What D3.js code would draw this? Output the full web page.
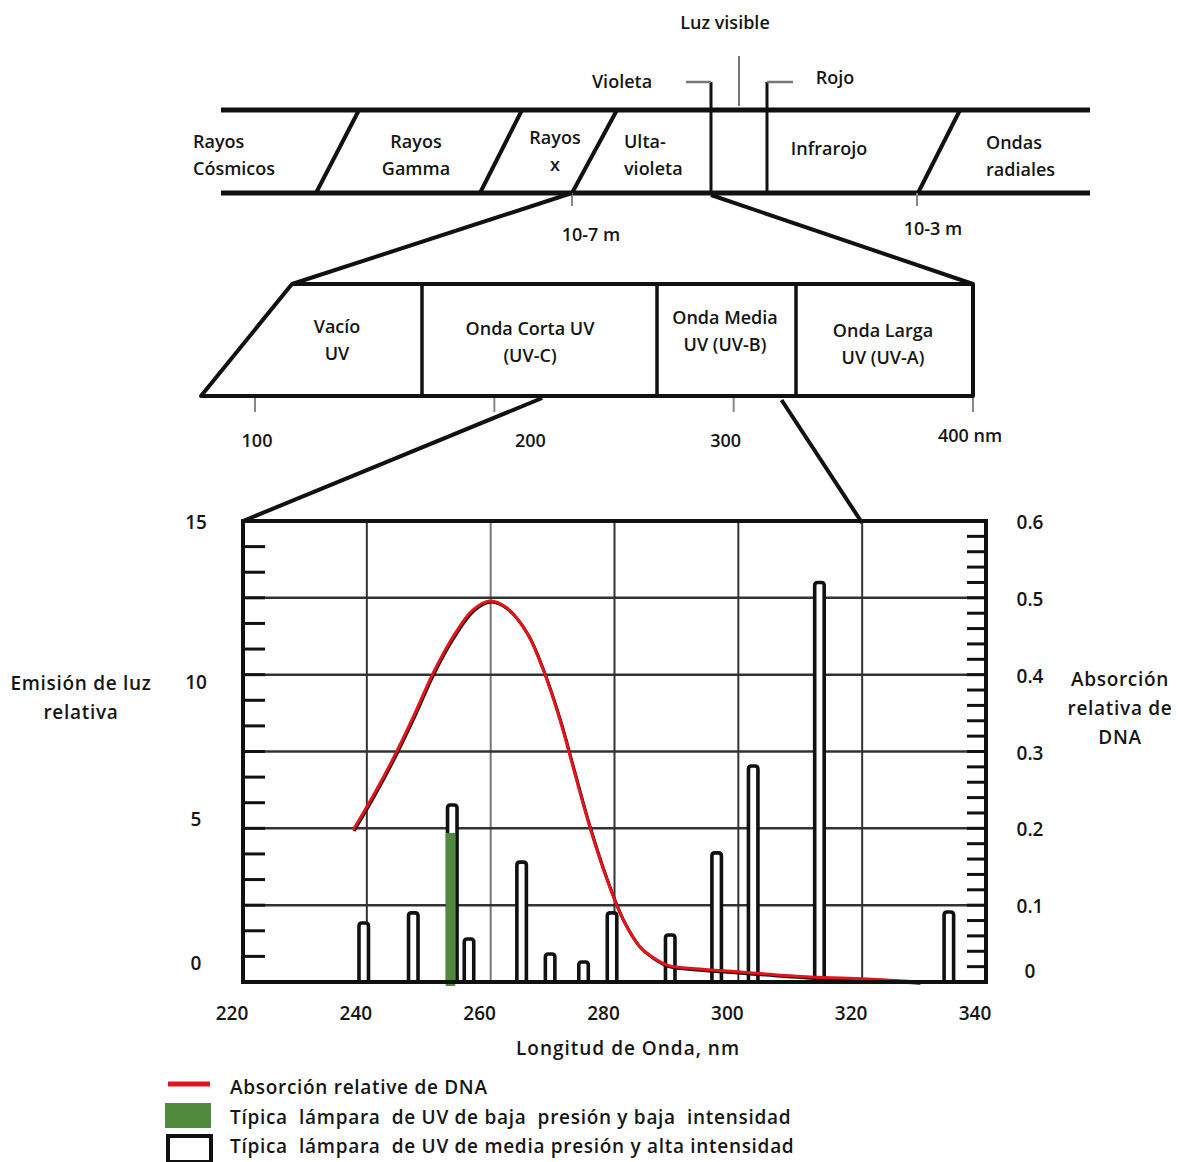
<!DOCTYPE html>
<html><head><meta charset="utf-8">
<script src="https://cdn.jsdelivr.net/npm/d3@7"></script>
<style>
body{margin:0;background:#fff;}
svg text{font-family:"Open Sans",Lato,sans-serif;fill:#161616;font-weight:600;}
svg text.wide{letter-spacing:0.7px;}
</style></head>
<body>
<svg id="c" width="1178" height="1162"></svg>
<script>
// Medium-pressure mercury lamp: emission lines (nm) and relative emission
const lampWavelengths = [239.5, 247.5, 253.8, 256.5, 265, 269.6, 275, 279.6, 289, 296.5, 302.4, 313.1, 334];
const lampEmission    = [1.92, 2.25, 5.76, 1.40, 3.90, 0.91, 0.65, 2.25, 1.53, 4.20, 7.03, 13.0, 2.28];
// Low-pressure lamp: single 254 nm line
const lowWavelengths = [253.8];
const lowEmission    = [4.85];
// Relative DNA absorption curve
const dnaWavelengths = [237.8, 241.0, 244.2, 247.5, 250.7, 253.9, 257.1, 259.9, 262.6, 265.9, 268.5, 271.2, 273.3, 276.0, 278.8, 281.4, 284.1, 285.7, 288.5, 293.8, 300.3, 311.6, 320.8, 329.3];
const dnaAbsorption  = [0.198, 0.242, 0.290, 0.345, 0.402, 0.449, 0.484, 0.496, 0.487, 0.454, 0.406, 0.341, 0.280, 0.202, 0.133, 0.081, 0.046, 0.035, 0.022, 0.017, 0.013, 0.0065, 0.004, 0.0];
// Axis ticks
const xTicks = [220, 240, 260, 280, 300, 320, 340];
const leftTicks = [0, 5, 10, 15];
const rightTicks = [0, 0.1, 0.2, 0.3, 0.4, 0.5, 0.6];
const uvTicks = [100, 200, 300, 400];
const legendLabels = [
  "Absorción relative de DNA",
  "Típica  lámpara  de UV de baja  presión y baja  intensidad",
  "Típica  lámpara  de UV de media presión y alta intensidad"
];

const svg = d3.select("#c");
const ink = "#111";

// ---------- Electromagnetic spectrum band ----------
const specG = svg.append("g");
function line(g, x1, y1, x2, y2, w, c) {
  return g.append("line").attr("x1", x1).attr("y1", y1).attr("x2", x2).attr("y2", y2)
    .attr("stroke", c || ink).attr("stroke-width", w);
}
function label(g, x, y, lines, anchor, size) {
  const t = g.append("text").attr("x", x).attr("y", y)
    .attr("text-anchor", anchor || "middle").style("font-size", (size || 18) + "px");
  lines.forEach((s, i) => t.append("tspan").attr("x", x).attr("dy", i ? 27 : 0).text(s));
  return t;
}
line(specG, 221, 110, 1090, 110, 5);
line(specG, 221, 193, 1090, 193, 5);
[[359, 316], [522, 480], [617, 572], [960, 918]].forEach(d => line(specG, d[0], 110, d[1], 193, 4));
line(specG, 711, 82, 711, 193, 3);
line(specG, 686, 82, 711, 82, 2.5, "#777");
line(specG, 767, 82, 767, 193, 3);
line(specG, 767, 82, 793, 82, 2.5, "#777");
line(specG, 739, 56, 739, 106, 2, "#777");
line(specG, 572, 193, 572, 206, 2, "#888");
line(specG, 917, 193, 917, 206, 2, "#888");
label(specG, 725, 29, ["Luz visible"]);
label(specG, 622, 88, ["Violeta"]);
label(specG, 835, 84, ["Rojo"]);
label(specG, 193, 148, ["Rayos", "Cósmicos"], "start");
label(specG, 416, 148, ["Rayos", "Gamma"]);
label(specG, 555, 144, ["Rayos", "x"]);
label(specG, 624, 148, ["Ulta-", "violeta"], "start");
label(specG, 829, 155, ["Infrarojo"]);
label(specG, 986, 149, ["Ondas", "radiales"], "start");
label(specG, 591, 241, ["10-7 m"]);
label(specG, 933, 235, ["10-3 m"]);

// ---------- Ultraviolet sub-band ----------
const uvX = d3.scaleLinear().domain([100, 400]).range([255, 973]);
const mid = svg.append("g");
line(mid, 572, 193, 292, 284, 4);
line(mid, 711, 195, uvX(400), 284, 4);
mid.append("path")
  .attr("d", `M292,284 L${uvX(400)},284 L${uvX(400)},396 L201,396 Z`)
  .attr("fill", "none").attr("stroke", ink).attr("stroke-width", 4).attr("stroke-linejoin", "round");
[422, 657, 796].forEach(x => line(mid, x, 284, x, 396, 3.5));
uvTicks.forEach(v => line(mid, uvX(v), 398, uvX(v), 412, 2, "#888"));
// tick labels sit a little off their ticks in this schematic
const uvLabelNudge = v => (v === 200 ? 36 : v === 300 ? -8 : v === 400 ? -3 : 2);
uvTicks.forEach(v => label(mid, uvX(v) + uvLabelNudge(v), v === 400 ? 442 : 447, [v === 400 ? "400 nm" : String(v)]));
label(mid, 337, 333, ["Vacío", "UV"]);
label(mid, 530, 335, ["Onda Corta UV", "(UV-C)"]);
label(mid, 725, 324, ["Onda Media", "UV (UV-B)"]);
label(mid, 883, 337, ["Onda Larga", "UV (UV-A)"]);

// ---------- Spectral chart ----------
const x = d3.scaleLinear().domain([220, 340]).range([243, 986]);
const yL = d3.scaleLinear().domain([0, 15]).range([982, 521]);
const yR = d3.scaleLinear().domain([0, 0.6]).range([982, 521]);
const plot = svg.append("g");

// zoom lines from the UV band into the chart
line(plot, uvX(220), 398, x(220), yL(15), 4);
line(plot, uvX(320), 400, x(320), yL(15) + 2, 4);

// grid
plot.append("g").selectAll("line").data(xTicks.slice(1, -1)).join("line")
  .attr("x1", d => x(d)).attr("x2", d => x(d)).attr("y1", yL(15)).attr("y2", yL(0))
  .attr("stroke", (d) => d === 260 ? "#777" : "#333").attr("stroke-width", 2);
plot.append("g").selectAll("line").data(rightTicks.slice(1, -1)).join("line")
  .attr("x1", x(220)).attr("x2", x(340)).attr("y1", d => yR(d)).attr("y2", d => yR(d))
  .attr("stroke", "#333").attr("stroke-width", 2.5);

// minor ticks on both vertical axes
plot.append("g").selectAll("line").data(d3.range(1, 18).map(i => i * 15 / 18)).join("line")
  .attr("x1", x(220)).attr("x2", x(220) + 22).attr("y1", d => yL(d)).attr("y2", d => yL(d))
  .attr("stroke", ink).attr("stroke-width", 3);
plot.append("g").selectAll("line").data(d3.range(1, 30).map(i => i * 0.02)).join("line")
  .attr("x1", x(340) - 19).attr("x2", x(340)).attr("y1", d => yR(d)).attr("y2", d => yR(d))
  .attr("stroke", ink).attr("stroke-width", 3);

// medium-pressure lamp lines (outlined bars)
const barW = 9.5;
plot.append("g").selectAll("path").data(lampWavelengths.map((w, i) => [w, lampEmission[i]])).join("path")
  .attr("d", d => {
    const x0 = x(d[0]) - barW / 2, x1 = x(d[0]) + barW / 2, yt = yL(d[1]), yb = yL(0);
    return `M${x0},${yb} L${x0},${yt + 3} Q${x0},${yt} ${x0 + 3},${yt} L${x1 - 3},${yt} Q${x1},${yt} ${x1},${yt + 3} L${x1},${yb}`;
  })
  .attr("fill", "#fff").attr("stroke", ink).attr("stroke-width", 3.6);

// low-pressure lamp line (filled green)
plot.append("g").selectAll("rect").data(lowWavelengths.map((w, i) => [w, lowEmission[i]])).join("rect")
  .attr("x", d => x(d[0]) - barW / 2 - 1.8).attr("width", barW)
  .attr("y", d => yL(d[1])).attr("height", d => yL(0) - yL(d[1]) + 4)
  .attr("fill", "#4f8a3d");

// DNA absorption curve
const dnaLine = d3.line().x(d => x(d[0])).y(d => yR(d[1])).curve(d3.curveCatmullRom.alpha(0.5));
const dna = dnaWavelengths.map((w, i) => [w, dnaAbsorption[i]]);
plot.append("path").datum(dna).attr("d", dnaLine).attr("fill", "none")
  .attr("stroke", "#1a0a0a").attr("stroke-width", 3).attr("transform", "translate(0.8,1.2)");
plot.append("path").datum(dna).attr("d", dnaLine).attr("fill", "none")
  .attr("stroke", "#e3141b").attr("stroke-width", 3);

// frame
plot.append("rect").attr("x", x(220)).attr("y", yL(15)).attr("width", x(340) - x(220)).attr("height", yL(0) - yL(15))
  .attr("fill", "none").attr("stroke", ink).attr("stroke-width", 4);

// tick labels
plot.append("g").selectAll("text").data(xTicks).join("text")
  .attr("x", d => x(d) - 11).attr("y", yL(0) + 38).attr("text-anchor", "middle")
  .style("font-size", "19px").text(d => d);
plot.append("g").selectAll("text").data(leftTicks).join("text")
  .attr("x", 196).attr("y", d => yL(d) + (d === 0 ? -12 : d === 10 ? 14 : d === 5 ? -2 : 8)).attr("text-anchor", "middle")
  .style("font-size", "19px").text(d => d);
plot.append("g").selectAll("text").data(rightTicks).join("text")
  .attr("x", 1030).attr("y", d => yR(d) + (d === 0 ? -4 : 8)).attr("text-anchor", "middle")
  .style("font-size", "19px").text(d => d === 0 ? "0" : d3.format(".1f")(d));

// axis titles
label(plot, 628, 1055, ["Longitud de Onda, nm"], "middle", 19).classed("wide", true).style("letter-spacing", "1px");
const lt = label(plot, 81, 690, ["Emisión de luz", "relativa"], "middle", 19).classed("wide", true);
lt.selectAll("tspan").attr("dy", (d, i) => i ? 29 : 0);
const rt = label(plot, 1120, 686, ["Absorción", "relativa de", "DNA"], "middle", 19).classed("wide", true);
rt.selectAll("tspan").attr("dy", (d, i) => i ? 29 : 0);

// ---------- Legend ----------
const leg = svg.append("g");
leg.append("line").attr("x1", 168).attr("x2", 210).attr("y1", 1084).attr("y2", 1084)
  .attr("stroke", "#e3141b").attr("stroke-width", 5);
leg.append("rect").attr("x", 165).attr("y", 1103).attr("width", 46).attr("height", 25).attr("fill", "#4f8a3d");
leg.append("rect").attr("x", 168).attr("y", 1136).attr("width", 43).attr("height", 26)
  .attr("fill", "#fff").attr("stroke", ink).attr("stroke-width", 4);
leg.selectAll("text.l").data(legendLabels).join("text").attr("class", "l wide")
  .attr("x", 230).attr("y", (d, i) => 1094 + i * 29.5)
  .style("font-size", "19px").style("white-space", "pre").attr("xml:space", "preserve").text(d => d);
</script>
</body></html>
